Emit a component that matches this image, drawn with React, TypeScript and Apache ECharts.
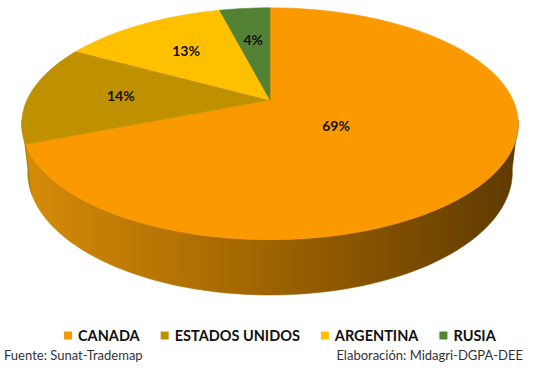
import React, { useEffect, useRef } from "react";
import * as echarts from "echarts";

const countries = ["CANADA", "ESTADOS UNIDOS", "ARGENTINA", "RUSIA"];
const shares = [69, 14, 13, 4];
const topColors = ["#FA9A00", "#BF9000", "#FFC000", "#548235"];
const sideColors = [
  ["#D88C08", "#9E6300", "#5E3900"],
  ["#A88500", "#8A6C00", "#5E4A00"],
  ["#D9A400", "#A87F00", "#6E5300"],
  ["#45702B", "#375A22", "#243B16"],
];
const sourceText = "Fuente: Sunat-Trademap";
const creditText = "Elaboración: Midagri-DGPA-DEE";

// projection of a tilted disk with perspective
const CX = 270, CY = 100, S = 243, D = 4.34;
const SINP = 0.457, COSP = 0.889, H = 0.225;
function proj(thetaDeg: number, r: number, z: number): number[] {
  const t = (thetaDeg * Math.PI) / 180;
  const x = r * Math.cos(t);
  const y = r * Math.sin(t);
  const up = y * SINP + z * COSP;
  const depth = y * COSP - z * SINP + D;
  return [CX + (S * D * x) / depth, CY - (S * D * up) / depth];
}

export default function App() {
  const ref = useRef<HTMLDivElement>(null);
  useEffect(() => {
    document.body.style.margin = "0";
    if (!ref.current) return;
    const chart = echarts.init(ref.current, null, { renderer: "svg" });
    const total = shares.reduce((a, b) => a + b, 0);
    const cum: number[] = [];
    let acc = 0;
    shares.forEach((v) => {
      cum.push(acc);
      acc += v;
    });

    const series = countries.map((name, i) => ({
      type: "custom",
      name,
      coordinateSystem: "none",
      itemStyle: { color: topColors[i] },
      data: [[shares[i]]],
      renderItem: (_params: any, api: any) => {
        const v = api.value(0);
        const start = 90 - (360 * cum[i]) / total;
        const end = start - (360 * v) / total;
        const children: any[] = [];
        // top face
        const pts: number[][] = [proj(0, 0, 0)];
        const n = Math.max(4, Math.ceil((start - end) / 2));
        for (let k = 0; k <= n; k++) {
          pts.push(proj(start - ((start - end) * k) / n, 1, 0));
        }
        children.push({
          type: "polygon",
          z2: 10,
          shape: { points: pts },
          style: { fill: topColors[i], stroke: topColors[i], lineWidth: 0.6 },
        });
        // side face (visible front range)
        const visA = -10, visB = -170;
        const ranges: number[][] = [];
        for (const off of [0, -360, 360]) {
          const a = Math.min(start + off, visA);
          const b = Math.max(end + off, visB);
          if (a > b) ranges.push([a, b]);
        }
        ranges.forEach(([a, b]) => {
          const m = Math.max(2, Math.ceil((a - b) / 2));
          const topRim: number[][] = [];
          const botRim: number[][] = [];
          for (let k = 0; k <= m; k++) {
            const th = a - ((a - b) * k) / m;
            topRim.push(proj(th, 1, 0));
            botRim.push(proj(th, 1, -H));
          }
          const poly = topRim.concat(botRim.reverse());
          const grad = new echarts.graphic.LinearGradient(
            20, 0, 520, 0,
            [
              { offset: 0, color: sideColors[i][0] },
              { offset: 0.5, color: sideColors[i][1] },
              { offset: 1, color: sideColors[i][2] },
            ],
            true
          );
          children.push({
            type: "polygon",
            z2: 1,
            shape: { points: poly },
            style: { fill: grad, stroke: grad, lineWidth: 0.6 },
          });
        });
        // label
        const frac = v / total;
        const mid = (start + end) / 2 - (frac > 0.5 ? 6 : 0);
        const r = frac > 0.5 ? 0.34 : 0.62;
        const lp = proj(mid, r, 0);
        children.push({
          type: "text",
          z2: 20,
          x: lp[0],
          y: lp[1],
          style: {
            text: `${Math.round(frac * 100)}%`,
            fill: "#111",
            fontSize: 14,
            fontWeight: "bold",
            fontFamily: "Lato",
            align: "center",
            verticalAlign: "middle",
          },
        });
        return { type: "group", children };
      },
    }));

    chart.setOption({
      animation: false,
      backgroundColor: "#ffffff",
      legend: {
        data: countries,
        left: 59,
        top: 323,
        icon: "rect",
        itemWidth: 8,
        itemHeight: 8,
        itemGap: 21,
        selectedMode: false,
        textStyle: {
          color: "#111",
          fontSize: 14.5,
          fontWeight: "bold",
          fontFamily: "Lato",
          padding: [0, 0, 0, 1],
        },
      },
      graphic: [
        {
          type: "text",
          left: 4,
          top: 348,
          style: { text: sourceText, fill: "#333", fontSize: 13, fontFamily: "Lato" },
        },
        {
          type: "text",
          right: 16,
          top: 348,
          style: { text: creditText, fill: "#333", fontSize: 13, fontFamily: "Lato" },
        },
      ],
      series,
    });
    return () => chart.dispose();
  }, []);
  return <div ref={ref} style={{ width: 539, height: 368 }} />;
}
